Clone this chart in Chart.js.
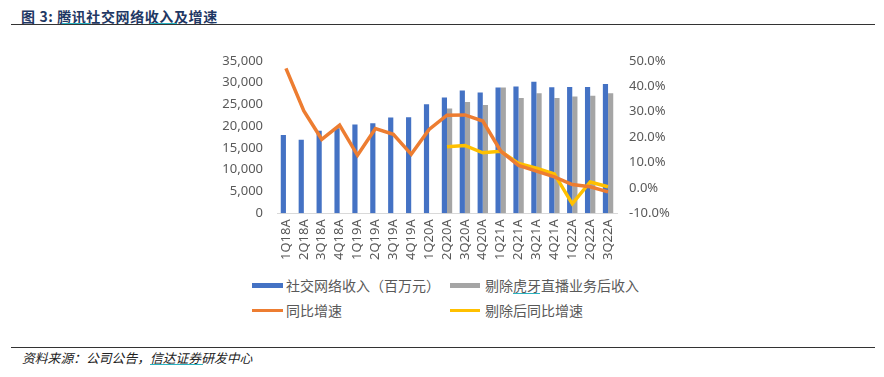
<!DOCTYPE html>
<html>
<head>
<meta charset="utf-8">
<script src="https://cdn.jsdelivr.net/npm/chart.js@4"></script>
<style>
  body { margin: 0; width: 884px; height: 377px; background: #fff; position: relative; overflow: hidden;
         font-family: "Noto Sans CJK SC", "Noto Sans", sans-serif; }
  .title { position: absolute; left: 21px; top: 6px; font-size: 14px; font-weight: bold; color: #1f3864; letter-spacing: 0.6px; }
  .rule { position: absolute; left: 11px; width: 864px; height: 1px; background: #333; }
  .squig { position: absolute; height: 1px; background: #2bb3c0; }
  .foot { position: absolute; left: 22px; top: 348px; font-size: 12.8px; font-style: italic; color: #222; }
  #wrap { position: absolute; left: 190px; top: 39px; width: 490px; height: 227px; }
  .leg { position: absolute; font-size: 14px; color: #595959; line-height: 16px; }
  .sw { position: absolute; }
</style>
</head>
<body>
<div class="title">图 3: 腾讯社交网络收入及增速</div>
<div class="squig" style="left:62px;top:23px;width:28px"></div>
<div class="squig" style="left:150px;top:23px;width:27px"></div>
<div class="rule" style="top:24px"></div>

<div id="wrap"><canvas id="myChart"></canvas></div>

<div class="sw" style="left:252px;top:283px;width:31px;height:5px;background:#4472C4"></div>
<div class="leg" style="left:286px;top:277px">社交网络收入（百万元）</div>
<div class="sw" style="left:450px;top:283px;width:30px;height:5px;background:#A5A5A5"></div>
<div class="leg" style="left:485px;top:277px">剔除虎牙直播业务后收入</div>
<div class="squig" style="left:513px;top:293px;width:27px"></div>
<div class="sw" style="left:252px;top:309px;width:31px;height:3px;background:#ED7D31"></div>
<div class="leg" style="left:286px;top:302px">同比增速</div>
<div class="sw" style="left:450px;top:309px;width:30px;height:3px;background:#FFC000"></div>
<div class="leg" style="left:485px;top:302px">剔除后同比增速</div>

<div class="rule" style="top:347px"></div>
<div class="foot">资料来源：公司公告，信达证券研发中心</div>
<div class="squig" style="left:150px;top:364px;width:53px"></div>

<script>
const quarters = ['1Q18A', '2Q18A', '3Q18A', '4Q18A', '1Q19A', '2Q19A', '3Q19A', '4Q19A', '1Q20A', '2Q20A',
  '3Q20A', '4Q20A', '1Q21A', '2Q21A', '3Q21A', '4Q21A', '1Q22A', '2Q22A', '3Q22A'];
const revenue = [17990, 16860, 18930, 19520, 20380, 20660, 21960, 22010, 25030, 26600,
  28200, 27750, 28880, 29090, 30200, 28950, 29000, 28960, 29650];
const revenueExHuya = [null, null, null, null, null, null, null, null, null, 24050,
  25550, 24870, 28880, 26450, 27560, 26450, 26780, 26950, 27560];
const growth = [47.0, 30.3, 19.1, 24.7, 12.8, 23.3, 21.1, 13.2, 23.0, 28.6,
  28.7, 26.3, 14.5, 8.8, 6.6, 4.3, 1.3, 0.4, -1.6];
const growthExHuya = [null, null, null, null, null, null, null, null, null, 16.2,
  16.7, 13.8, 14.4, 9.6, 7.7, 5.5, -6.3, 2.3, 0.4];
const leftTicks = [0, 5000, 10000, 15000, 20000, 25000, 30000, 35000];
const rightTicks = [-10, 0, 10, 20, 30, 40, 50];

const tickFont = { family: '"Noto Sans", "Liberation Sans", sans-serif', size: 13 };
const ctx = document.getElementById('myChart');

new Chart(ctx, {
  type: 'bar',
  data: {
    labels: quarters,
    datasets: [
      { type: 'line', label: '同比增速', data: growth, yAxisID: 'y1', borderColor: '#ED7D31',
        borderWidth: 3.5, pointRadius: 0, tension: 0, order: 0 },
      { type: 'line', label: '剔除后同比增速', data: growthExHuya, yAxisID: 'y1', borderColor: '#FFC000',
        borderWidth: 3.5, pointRadius: 0, tension: 0, order: 1 },
      { label: '社交网络收入（百万元）', data: revenue, yAxisID: 'y', backgroundColor: '#4472C4',
        categoryPercentage: 0.58, barPercentage: 1.0, order: 2 },
      { label: '剔除虎牙直播业务后收入', data: revenueExHuya, yAxisID: 'y', backgroundColor: '#A5A5A5',
        categoryPercentage: 0.58, barPercentage: 1.0, order: 3 }
    ]
  },
  options: {
    responsive: true,
    maintainAspectRatio: false,
    animation: false,
    layout: { padding: { top: 0, left: 0, right: 0, bottom: 0 } },
    plugins: { legend: { display: false }, tooltip: { enabled: false } },
    scales: {
      x: {
        grid: { display: false, drawTicks: false },
        border: { color: '#d9d9d9', width: 1 },
        ticks: { minRotation: 90, maxRotation: 90, color: '#595959', font: tickFont, padding: 6, autoSkip: false }
      },
      y: {
        position: 'left',
        min: 0, max: 35000,
        afterBuildTicks: s => { s.ticks = leftTicks.map(v => ({ value: v })); },
        afterFit: s => { s.width = 87; },
        grid: { display: false, drawTicks: false },
        border: { display: false },
        ticks: { color: '#595959', font: tickFont, padding: 14,
          callback: v => v.toLocaleString('en-US') }
      },
      y1: {
        position: 'right',
        min: -10, max: 50,
        afterBuildTicks: s => { s.ticks = rightTicks.map(v => ({ value: v })); },
        afterFit: s => { s.width = 63; },
        grid: { display: false, drawTicks: false },
        border: { display: false },
        ticks: { color: '#595959', font: tickFont, padding: 12,
          callback: v => v.toFixed(1) + '%' }
      }
    }
  }
});
</script>
</body>
</html>
